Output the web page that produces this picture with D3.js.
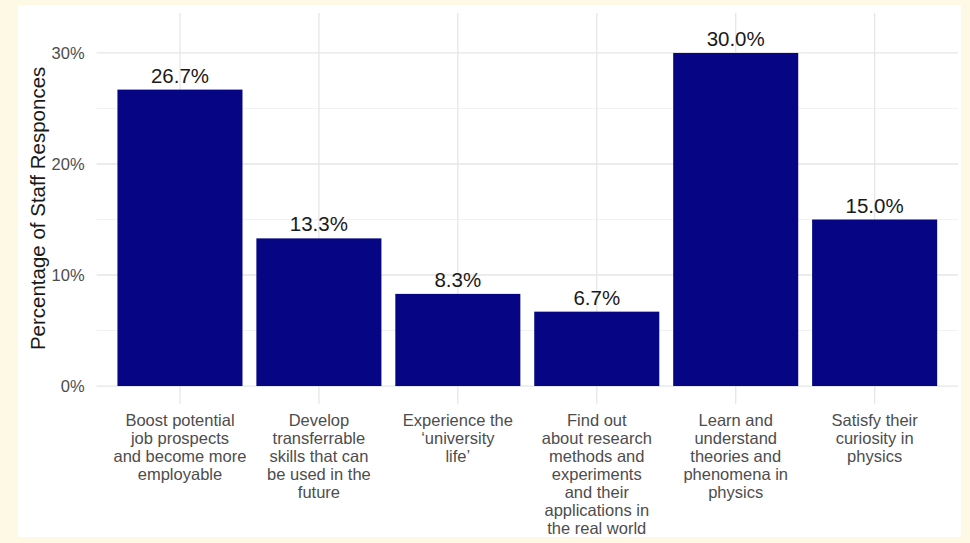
<!DOCTYPE html>
<html>
<head>
<meta charset="utf-8">
<script src="https://cdn.jsdelivr.net/npm/d3@7"></script>
<style>
  html, body { margin: 0; padding: 0; background: #fdf9e4; }
  svg { display: block; font-family: "Liberation Sans", Arial, sans-serif; }
</style>
</head>
<body>
<svg id="chart" width="970" height="543"></svg>
<script>
// Reasons staff gave, with the share of responses for each
const categories = [
  ["Boost potential", "job prospects", "and become more", "employable"],
  ["Develop", "transferrable", "skills that can", "be used in the", "future"],
  ["Experience the", "\u2018university", "life\u2019"],
  ["Find out", "about research", "methods and", "experiments", "and their", "applications in", "the real world"],
  ["Learn and", "understand", "theories and", "phenomena in", "physics"],
  ["Satisfy their", "curiosity in", "physics"]
];
const values = [26.7, 13.3, 8.3, 6.7, 30.0, 15.0];
const majorTicks = [0, 10, 20, 30];
const minorTicks = [5, 15, 25];

const svg = d3.select("#chart");

// white card behind the plot
svg.append("rect")
  .attr("x", 18).attr("y", 5).attr("width", 943).attr("height", 532)
  .attr("fill", "#ffffff");

const plot = { left: 96.6, right: 958, top: 13, bottom: 403.8 };

const ids = categories.map((c, i) => i);
const x = d3.scaleBand()
  .domain(ids)
  .range([plot.left, plot.right])
  .paddingInner(0.1)
  .paddingOuter(0.15);

const y = d3.scaleLinear()
  .domain([-1.6, 33.6])
  .range([plot.bottom, plot.top]);

// gridlines
const grid = svg.append("g");
grid.selectAll(".minor").data(minorTicks).join("line")
  .attr("x1", plot.left).attr("x2", plot.right)
  .attr("y1", d => y(d)).attr("y2", d => y(d))
  .attr("stroke", "#f2f2f2").attr("stroke-width", 1);
grid.selectAll(".major").data(majorTicks).join("line")
  .attr("x1", plot.left).attr("x2", plot.right)
  .attr("y1", d => y(d)).attr("y2", d => y(d))
  .attr("stroke", "#e6e6e6").attr("stroke-width", 1.3);
grid.selectAll(".vert").data(ids).join("line")
  .attr("x1", d => x(d) + x.bandwidth() / 2).attr("x2", d => x(d) + x.bandwidth() / 2)
  .attr("y1", plot.top).attr("y2", plot.bottom)
  .attr("stroke", "#e6e6e6").attr("stroke-width", 1.3);

// bars
svg.append("g").selectAll("rect").data(values).join("rect")
  .attr("x", (d, i) => x(i))
  .attr("width", x.bandwidth())
  .attr("y", d => y(d))
  .attr("height", d => y(0) - y(d))
  .attr("fill", "#060685");

// value labels
svg.append("g").selectAll("text").data(values).join("text")
  .attr("x", (d, i) => x(i) + x.bandwidth() / 2)
  .attr("y", d => y(d) - 7)
  .attr("text-anchor", "middle")
  .attr("font-size", 20.5)
  .attr("fill", "#1a1a1a")
  .text(d => d.toFixed(1) + "%");

// y axis tick labels
const yAxis = d3.axisLeft(y).tickValues(majorTicks).tickSize(0).tickPadding(12)
  .tickFormat(d => d + "%");
svg.append("g")
  .attr("transform", `translate(${plot.left},0)`)
  .call(yAxis)
  .call(g => g.select(".domain").remove())
  .call(g => g.selectAll("text")
    .attr("font-size", 16.5)
    .attr("fill", "#4d4d4d")
    .attr("font-family", "Liberation Sans, Arial, sans-serif"));

// x axis category labels (multi-line)
const xl = svg.append("g").selectAll("text").data(categories).join("text")
  .attr("text-anchor", "middle")
  .attr("font-size", 16.5)
  .attr("fill", "#4d4d4d")
  .attr("transform", (d, i) => `translate(${x(i) + x.bandwidth() / 2},426)`);
xl.selectAll("tspan").data(d => d).join("tspan")
  .attr("x", 0)
  .attr("dy", (d, i) => i === 0 ? 0 : 18)
  .text(d => d);

// y axis title
svg.append("text")
  .attr("transform", `translate(45,${(plot.top + plot.bottom) / 2}) rotate(-90)`)
  .attr("text-anchor", "middle")
  .attr("font-size", 20.5)
  .attr("fill", "#1a1a1a")
  .text("Percentage of Staff Responces");
</script>
</body>
</html>
